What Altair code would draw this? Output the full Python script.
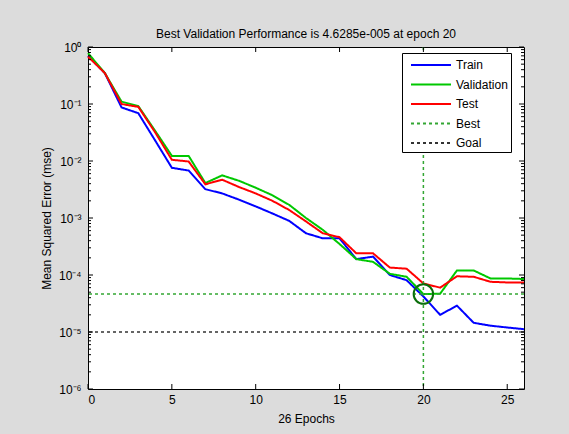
import altair as alt
import pandas as pd

epochs = list(range(27))
train = [0.70, 0.35, 0.087, 0.069, 0.023, 0.0076, 0.0068, 0.0032, 0.0027, 0.0021,
         0.0016, 0.0012, 0.00089, 0.00054, 0.00044, 0.00044, 0.00019, 0.00021, 0.0001,
         0.000081, 0.000042, 0.000020, 0.000029, 0.0000145, 0.0000129, 0.000012, 0.0000112]
validation = [0.78, 0.35, 0.11, 0.092, 0.034, 0.0123, 0.0123, 0.0041, 0.0056, 0.0045,
              0.0034, 0.0025, 0.0017, 0.0010, 0.00062, 0.00035, 0.00019, 0.00017, 0.000105,
              0.000093, 0.000046285, 0.000047, 0.00012, 0.00012, 0.000087, 0.000087, 0.000085]
test = [0.68, 0.35, 0.10, 0.089, 0.032, 0.0105, 0.0098, 0.0039, 0.0047, 0.0035,
        0.0027, 0.0020, 0.00138, 0.00087, 0.00054, 0.00046, 0.00024, 0.00024, 0.000135,
        0.000129, 0.000071, 0.00006, 0.000095, 0.000093, 0.000076, 0.000074, 0.000074]

best_epoch = 20
best_value = 4.6285e-5
goal_value = 1e-5

series_names = ["Train", "Validation", "Test", "Best", "Goal"]
series_colors = ["#0000ff", "#00c800", "#ff0000", "#33a633", "#333333"]
series_dash = [[1, 0], [1, 0], [1, 0], [3, 3], [3, 3]]

x_major = [0, 5, 10, 15, 20, 25]
y_major = [1e-6, 1e-5, 1e-4, 1e-3, 1e-2, 1e-1, 1]
y_minor = [m * 10.0 ** k for k in range(-6, 0) for m in range(2, 10)]

W, H = 436, 342
FONT = "Liberation Sans"

rows = []
for name, vals in [("Train", train), ("Validation", validation), ("Test", test)]:
    for e, v in zip(epochs, vals):
        rows.append({"epoch": e, "mse": v, "series": name})
lines_df = pd.DataFrame(rows)
hrules_df = pd.DataFrame({"mse": [best_value, goal_value], "series": ["Best", "Goal"]})
best_df = pd.DataFrame({"epoch": [best_epoch], "mse": [best_value]})
ymaj_df = pd.DataFrame({"mse": y_major})
ymin_df = pd.DataFrame({"mse": y_minor})
xmaj_df = pd.DataFrame({"epoch": x_major})

label_expr = ("'10' + (round(log(datum.value)/LN10) < 0 ? '\u207b' : '') + "
              "['\u2070','\u00b9','\u00b2','\u00b3','\u2074','\u2075','\u2076']"
              "[abs(round(log(datum.value)/LN10))]")

xscale = alt.Scale(domain=[0, 26], nice=False, zero=False)
yscale = alt.Scale(type="log", domain=[1e-6, 1], nice=False)

legend = alt.Legend(title=None, orient="none", legendX=314, legendY=6,
                    symbolType="M-2.5,0H2.5", symbolSize=256,
                    symbolStrokeWidth=2, labelFontSize=12,
                    labelFont=FONT, labelColor="#000000",
                    fillColor="#ffffff", strokeColor="#000000",
                    padding=3, rowPadding=4.5, symbolOffset=17, labelOffset=16)

color_enc = alt.Color("series:N",
                      scale=alt.Scale(domain=series_names, range=series_colors),
                      legend=legend)
dash_enc = alt.StrokeDash("series:N",
                          scale=alt.Scale(domain=series_names, range=series_dash),
                          legend=legend)

lines = alt.Chart(lines_df).mark_line(strokeWidth=2).encode(
    x=alt.X("epoch:Q", scale=xscale,
            axis=alt.Axis(values=x_major, ticks=False, domain=False, grid=False,
                          title="26 Epochs", labelFontSize=12, titleFontSize=12,
                          titleFontWeight="normal", labelPadding=5, titlePadding=8,
                          labelFont=FONT, titleFont=FONT, labelColor="#000000",
                          titleColor="#000000")),
    y=alt.Y("mse:Q", scale=yscale,
            axis=alt.Axis(values=y_major, labelExpr=label_expr, ticks=False, domain=False,
                          grid=False, title="Mean Squared Error  (mse)", labelFontSize=12,
                          titleFontSize=12, titleFontWeight="normal", labelPadding=7,
                          titlePadding=5, labelFont=FONT, titleFont=FONT,
                          labelColor="#000000", titleColor="#000000")),
    color=color_enc,
    strokeDash=dash_enc,
    order=alt.Order("series:N"),
)

hrules = alt.Chart(hrules_df).mark_rule(strokeWidth=1.5).encode(
    y=alt.Y("mse:Q", scale=yscale),
    color=color_enc,
    strokeDash=dash_enc,
)

vrule = alt.Chart(best_df).mark_rule(strokeWidth=1.5, color="#33a633", strokeDash=[3, 3]).encode(
    x=alt.X("epoch:Q", scale=xscale),
)

circle = alt.Chart(best_df).mark_point(shape="circle", size=380, filled=False,
                                       color="#0a6e0a", strokeWidth=2, opacity=1).encode(
    x=alt.X("epoch:Q", scale=xscale),
    y=alt.Y("mse:Q", scale=yscale),
)

tick_color = "#000000"
yl_major = alt.Chart(ymaj_df).mark_rule(color=tick_color).encode(
    y=alt.Y("mse:Q", scale=yscale), x=alt.value(0), x2=alt.value(5))
yr_major = alt.Chart(ymaj_df).mark_rule(color=tick_color).encode(
    y=alt.Y("mse:Q", scale=yscale), x=alt.value(W), x2=alt.value(W - 5))
yl_minor = alt.Chart(ymin_df).mark_rule(color=tick_color).encode(
    y=alt.Y("mse:Q", scale=yscale), x=alt.value(0), x2=alt.value(3))
yr_minor = alt.Chart(ymin_df).mark_rule(color=tick_color).encode(
    y=alt.Y("mse:Q", scale=yscale), x=alt.value(W), x2=alt.value(W - 3))
xb_major = alt.Chart(xmaj_df).mark_rule(color=tick_color).encode(
    x=alt.X("epoch:Q", scale=xscale), y=alt.value(H), y2=alt.value(H - 5))
xt_major = alt.Chart(xmaj_df).mark_rule(color=tick_color).encode(
    x=alt.X("epoch:Q", scale=xscale), y=alt.value(0), y2=alt.value(5))

chart = alt.layer(
    lines, hrules, vrule, circle,
    yl_major, yr_major, yl_minor, yr_minor, xb_major, xt_major,
).properties(
    width=W, height=H,
    title=alt.TitleParams("Best Validation Performance is 4.6285e-005 at epoch 20",
                          fontSize=12, fontWeight="normal", font=FONT, color="#000000",
                          offset=0, anchor="middle"),
    autosize=alt.AutoSizeParams(type="none"),
    padding={"left": 88, "top": 47, "right": 45, "bottom": 45},
    background="#dcdcdc",
).configure_view(
    stroke="#000000", strokeWidth=1, fill="#ffffff"
)

chart.save("out.html", embed_options={"renderer": "svg", "actions": False})
